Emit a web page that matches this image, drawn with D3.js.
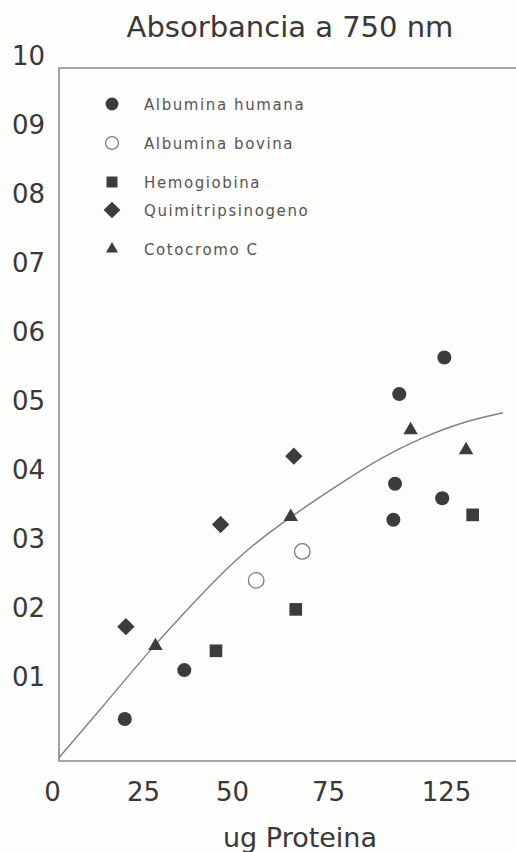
<!DOCTYPE html>
<html><head><meta charset="utf-8">
<script src="https://cdn.jsdelivr.net/npm/d3@7"></script>
<style>html,body{margin:0;padding:0;background:#fdfdfb;} svg{display:block;}</style>
</head><body>
<svg id="c" width="516" height="852"></svg>
<script>
// ---- data ----
const seriesNames = ["Albumina humana", "Albumina bovina", "Hemogiobina", "Quimitripsinogeno", "Cotocromo C"];
const humanaX = [20.0, 36.6, 102.7, 103.4, 105.2, 123.4, 124.3];
const humanaY = [0.039, 0.110, 0.328, 0.380, 0.510, 0.359, 0.563];
const bovinaX = [56.3, 68.3];
const bovinaY = [0.240, 0.282];
const hemoX = [45.5, 66.6, 136.3];
const hemoY = [0.138, 0.198, 0.335];
const quimiX = [20.3, 46.8, 66.1];
const quimiY = [0.173, 0.321, 0.420];
const citoX = [28.5, 65.3, 110.0, 133.5];
const citoY = [0.145, 0.332, 0.458, 0.429];
const fitX = [1.9, 14.6, 26.9, 39.6, 52.1, 65.4, 80.1, 97.0, 114.0, 132.2, 149.2];
const fitY = [-0.017, 0.061, 0.139, 0.210, 0.278, 0.333, 0.380, 0.417, 0.446, 0.470, 0.483];
const xTicks = [0, 25, 50, 75, 125];
const yTicks = [0.1, 0.2, 0.3, 0.4, 0.5, 0.6, 0.7, 0.8, 0.9, 1.0];
const yTickLabels = ["01", "02", "03", "04", "05", "06", "07", "08", "09", "10"];
const titleText = "Absorbancia a 750 nm";
const xTitleText = "ug Proteina";

// ---- layout ----
const W = 516, H = 852;
const frame = {left: 59, top: 68, bottom: 761, right: 516};
const svg = d3.select("#c");
const FONT = "'DejaVu Sans', sans-serif";
const INK = "#3c3c3c";

svg.append("rect").attr("width", W).attr("height", H).attr("fill", "#fdfdfb");

// the printed axis is hand-spaced; a piecewise linear scale follows its tick positions
const x = d3.scaleLinear().domain(xTicks).range([52, 143, 232, 328, 446]);
const y = d3.scaleLinear().domain([0, 1]).range([746, 56]);

// frame (top, left, bottom; open on the right)
svg.append("path")
  .attr("d", `M${frame.right},${frame.top}H${frame.left}V${frame.bottom}H${frame.right}`)
  .attr("fill", "none").attr("stroke", "#8a8a8a").attr("stroke-width", 1.6);

// title
svg.append("text").attr("x", 290).attr("y", 37).attr("text-anchor", "middle")
  .attr("font-family", FONT).attr("font-size", 29).attr("fill", "#383838").text(titleText);

// y axis labels
const yAxis = svg.append("g").attr("transform", "translate(48,0)")
  .call(d3.axisLeft(y).tickValues(yTicks).tickSize(0).tickPadding(3)
    .tickFormat((d, i) => yTickLabels[i]));
yAxis.select(".domain").remove();
yAxis.selectAll("text").attr("font-family", FONT).attr("font-size", 26).attr("fill", "#383838");

// x axis labels
const xAxis = svg.append("g").attr("transform", `translate(0,${frame.bottom})`)
  .call(d3.axisBottom(x).tickValues(xTicks).tickSize(0).tickPadding(22).tickFormat(d3.format("d")));
xAxis.select(".domain").remove();
xAxis.selectAll("text").attr("font-family", FONT).attr("font-size", 26).attr("fill", "#383838");

svg.append("text").attr("x", 300).attr("y", 847).attr("text-anchor", "middle")
  .attr("font-family", FONT).attr("font-size", 27).attr("fill", "#383838").text(xTitleText);

// fitted curve
const fit = fitX.map((v, i) => [v, fitY[i]]);
svg.append("path").datum(fit)
  .attr("d", d3.line().x(d => x(d[0])).y(d => y(d[1])).curve(d3.curveBasis))
  .attr("fill", "none").attr("stroke", "#808080").attr("stroke-width", 1.4);

// marker styles per series
const styles = [
  {type: d3.symbolCircle, size: 155, fill: INK, stroke: "none", rot: 0},
  {type: d3.symbolCircle, size: 190, fill: "#ffffff", stroke: "#7a7a7a", rot: 0},
  {type: d3.symbolSquare, size: 160, fill: INK, stroke: "none", rot: 0},
  {type: d3.symbolSquare, size: 150, fill: INK, stroke: "none", rot: 45},
  {type: d3.symbolTriangle, size: 90, fill: INK, stroke: "none", rot: 0}
];
const legendStyles = [
  {size: 130}, {size: 130}, {size: 120}, {size: 140}, {size: 62}
];
const seriesX = [humanaX, bovinaX, hemoX, quimiX, citoX];
const seriesY = [humanaY, bovinaY, hemoY, quimiY, citoY];
const points = [];
seriesX.forEach((xs, s) => xs.forEach((v, i) => points.push({s, x: v, y: seriesY[s][i]})));

svg.append("g").selectAll("path").data(points).join("path")
  .attr("transform", d => `translate(${x(d.x)},${y(d.y)}) rotate(${styles[d.s].rot})`)
  .attr("d", d => d3.symbol(styles[d.s].type, styles[d.s].size)())
  .attr("fill", d => styles[d.s].fill)
  .attr("stroke", d => styles[d.s].stroke)
  .attr("stroke-width", 1.3);

// legend
const legendRows = [104, 143, 182, 210, 249];
const lg = svg.append("g");
seriesNames.forEach((name, i) => {
  lg.append("path")
    .attr("transform", `translate(112,${legendRows[i]}) rotate(${styles[i].rot})`)
    .attr("d", d3.symbol(styles[i].type, legendStyles[i].size)())
    .attr("fill", styles[i].fill).attr("stroke", styles[i].stroke).attr("stroke-width", 1.2);
  lg.append("text").attr("x", 144).attr("y", legendRows[i] + 6)
    .attr("font-family", FONT).attr("font-size", 15).attr("letter-spacing", 1.6)
    .attr("fill", "#555").text(name);
});
</script>
</body></html>
